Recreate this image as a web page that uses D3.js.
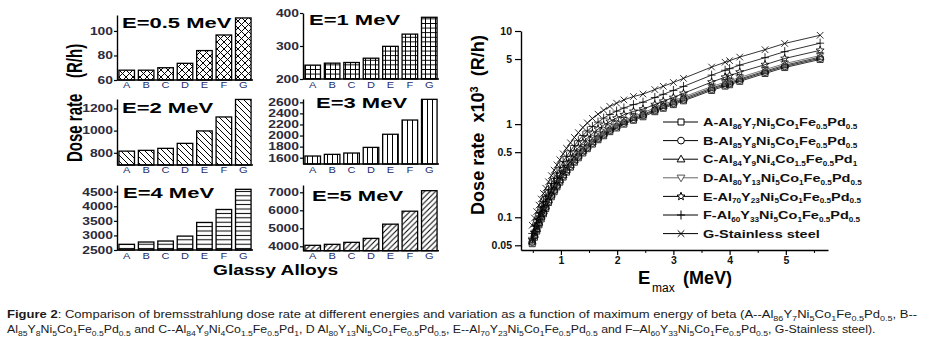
<!DOCTYPE html>
<html><head><meta charset="utf-8">
<script src="https://cdn.jsdelivr.net/npm/d3@7"></script>
<style>
body{margin:0;background:#fff}
svg{display:block;font-family:"Liberation Sans",Arial,sans-serif}
</style></head>
<body><svg id="c" width="928" height="347"></svg>
<script>
// ---------------- DATA ----------------
const alloys = ["A","B","C","D","E","F","G"];
const dose05MeV = [68, 68, 70, 73.6, 84, 96.7, 110.6];
const dose1MeV  = [242, 248, 250, 263, 299, 336, 387];
const dose2MeV  = [815, 822, 840, 885, 997, 1123, 1281];
const dose3MeV  = [1630, 1660, 1684, 1786, 2023, 2280, 2654];
const dose4MeV  = [2695, 2774, 2808, 2977, 3445, 3890, 4582];
const dose5MeV  = [4055, 4110, 4220, 4440, 5230, 5950, 7090];
const panelTitles = ["E=0.5 MeV","E=1 MeV","E=2 MeV","E=3 MeV","E=4 MeV","E=5 MeV"];
const ticks05 = [60, 80, 100];
const ticks1  = [200, 300, 400];
const ticks2  = [800, 1000, 1200];
const ticks3  = [1600, 1800, 2000, 2200, 2400, 2600];
const ticks4  = [2500, 3000, 3500, 4000, 4500];
const ticks5  = [4000, 5000, 6000, 7000];
const barYLabel = "Dose rate";
const barYUnit = "(R/h)";
const barXLabel = "Glassy Alloys";

const energyMeV = [0.49,0.53,0.57,0.61,0.65,0.69,0.73,0.78,0.83,0.88,0.93,0.98,1.04,1.10,1.17,1.24,1.31,1.39,1.47,1.56,1.66,1.76,1.87,1.99,2.12,2.29,2.46,2.67,2.82,3.00,3.18,3.68,3.92,4.00,4.18,4.63,4.98,5.61];
const doseA = [0.052,0.061,0.071,0.083,0.096,0.109,0.124,0.144,0.166,0.188,0.212,0.238,0.27,0.305,0.345,0.39,0.435,0.49,0.545,0.61,0.68,0.75,0.83,0.91,1.0,1.1,1.2,1.36,1.48,1.62,1.78,2.3,2.56,2.65,2.88,3.5,4.05,4.95];
const doseB = [0.054,0.063,0.073,0.085,0.099,0.112,0.128,0.148,0.171,0.194,0.218,0.245,0.278,0.314,0.355,0.402,0.448,0.505,0.561,0.628,0.70,0.773,0.855,0.937,1.03,1.13,1.24,1.40,1.52,1.67,1.83,2.37,2.64,2.73,2.97,3.61,4.17,5.1];
const doseC = [0.055,0.065,0.075,0.088,0.102,0.116,0.131,0.153,0.176,0.199,0.225,0.252,0.286,0.323,0.366,0.413,0.461,0.519,0.578,0.647,0.721,0.795,0.88,0.965,1.06,1.17,1.27,1.44,1.57,1.72,1.89,2.44,2.71,2.81,3.05,3.71,4.29,5.25];
const doseD = [0.057,0.067,0.078,0.091,0.106,0.12,0.136,0.158,0.183,0.207,0.233,0.262,0.297,0.336,0.38,0.429,0.479,0.539,0.60,0.671,0.748,0.825,0.913,1.0,1.1,1.21,1.32,1.5,1.63,1.78,1.96,2.53,2.82,2.92,3.17,3.85,4.46,5.45];
const doseE = [0.057,0.068,0.079,0.093,0.108,0.124,0.141,0.166,0.193,0.221,0.252,0.286,0.331,0.38,0.435,0.497,0.559,0.635,0.711,0.794,0.883,0.973,1.07,1.16,1.26,1.37,1.45,1.62,1.76,1.93,2.14,2.83,3.19,3.31,3.62,4.35,5.07,6.2];
const doseF = [0.067,0.080,0.094,0.111,0.129,0.148,0.168,0.197,0.23,0.262,0.299,0.34,0.394,0.451,0.517,0.59,0.664,0.754,0.845,0.943,1.05,1.16,1.27,1.38,1.49,1.62,1.72,1.93,2.09,2.3,2.54,3.36,3.79,3.94,4.3,5.17,6.0,7.4];
const doseG = [0.082,0.098,0.115,0.135,0.157,0.18,0.205,0.24,0.28,0.32,0.365,0.415,0.48,0.55,0.63,0.72,0.81,0.92,1.03,1.15,1.28,1.41,1.55,1.68,1.82,1.98,2.1,2.35,2.55,2.8,3.1,4.1,4.62,4.8,5.25,6.3,7.35,9.0];
const seriesLabels = [
  "A-Al_{86}Y_{7}Ni_{5}Co_{1}Fe_{0.5}Pd_{0.5}",
  "B-Al_{85}Y_{8}Ni_{5}Co_{1}Fe_{0.5}Pd_{0.5}",
  "C-Al_{84}Y_{9}Ni_{4}Co_{1.5}Fe_{0.5}Pd_{1}",
  "D-Al_{80}Y_{13}Ni_{5}Co_{1}Fe_{0.5}Pd_{0.5}",
  "E-Al_{70}Y_{23}Ni_{5}Co_{1}Fe_{0.5}Pd_{0.5}",
  "F-Al_{60}Y_{33}Ni_{5}Co_{1}Fe_{0.5}Pd_{0.5}",
  "G-Stainless steel"
];
const logTicks = [0.05, 0.1, 0.5, 1, 5, 10];
const energyTicks = [1, 2, 3, 4, 5];
const energyMinorTicks = [0.5, 1.5, 2.5, 3.5, 4.5, 5.5];
const captionLine1 = "**Figure 2**: Comparison of bremsstrahlung dose rate at different energies and variation as a function of maximum energy of beta (A--Al_{86}Y_{7}Ni_{5}Co_{1}Fe_{0.5}Pd_{0.5}, B--";
const captionLine2 = "Al_{85}Y_{8}Ni_{5}Co_{1}Fe_{0.5}Pd_{0.5} and C--Al_{84}Y_{9}Ni_{4}Co_{1.5}Fe_{0.5}Pd_{1}, D Al_{80}Y_{13}Ni_{5}Co_{1}Fe_{0.5}Pd_{0.5}, E--Al_{70}Y_{23}Ni_{5}Co_{1}Fe_{0.5}Pd_{0.5} and F\u2013Al_{60}Y_{33}Ni_{5}Co_{1}Fe_{0.5}Pd_{0.5}, G-Stainless steel).";

// ---------------- HELPERS ----------------
const svg = d3.select("#c");
const defs = svg.append("defs");
function pattern(id, w, h, d) {
  const p = defs.append("pattern").attr("id", id).attr("patternUnits", "userSpaceOnUse")
    .attr("width", w).attr("height", h);
  p.append("rect").attr("width", w).attr("height", h).attr("fill", "#fff");
  p.append("path").attr("d", d).attr("stroke", "#000").attr("stroke-width", 1).attr("fill", "none");
}
pattern("pXhatch", 7, 7, "M0,0L7,7M7,0L0,7M-1,1L1,-1M6,8L8,6M-1,6L1,8M6,-1L8,1");
pattern("pGrid", 5, 4.6, "M0,0.5H5M0.5,0V4.6");
pattern("pBack", 6, 6, "M0,0L6,6M-1,5L1,7M5,-1L7,1");
pattern("pVert", 5, 5, "M2.5,0V5");
pattern("pHoriz", 5, 4.4, "M0,2.2H5");
pattern("pFwd", 5.5, 5.5, "M0,5.5L5.5,0M-1,1L1,-1M4.5,6.5L6.5,4.5");

function richText(textSel, str, subFs, dy) {
  const parts = str.split(/(_\{[^}]*\}|\^\{[^}]*\}|\*\*[^*]*\*\*)/).filter(s => s.length);
  let shift = 0;
  parts.forEach(p => {
    const t = textSel.append("tspan");
    if (p.startsWith("_{") || p.startsWith("^{")) {
      const want = p[0] === "_" ? dy : -dy * 1.9;
      t.text(p.slice(2, -1)).attr("font-size", subFs);
      if (want !== shift) t.attr("dy", want - shift);
      shift = want;
    } else {
      if (p.startsWith("**")) t.text(p.slice(2, -2)).attr("font-weight", "bold");
      else t.text(p);
      if (shift) { t.attr("dy", -shift); shift = 0; }
    }
  });
}
function stretchedText(parent, x, y, k, str, opts) {
  const g = parent.append("g").attr("transform", `translate(${x},${y}) scale(${k},1)`);
  const t = g.append("text").text(str)
    .attr("font-size", opts.size).attr("font-weight", opts.weight || "normal")
    .attr("fill", opts.fill || "#000").attr("text-anchor", opts.anchor || "start");
  return t;
}

// ---------------- BAR PANELS ----------------
const panels = [
  {vals: dose05MeV, ticks: ticks05, dom: [60, 113],   x: [117, 253], y: [80, 15],    pat: "pXhatch", tx: 122, ty: 27.5, lb: 88},
  {vals: dose1MeV,  ticks: ticks1,  dom: [200, 400],  x: [303, 439], y: [79, 13],    pat: "pGrid",   tx: 309, ty: 24.5, lb: 87.5},
  {vals: dose2MeV,  ticks: ticks2,  dom: [690, 1285], x: [117, 253], y: [165, 99],   pat: "pBack",   tx: 122, ty: 113,  lb: 173},
  {vals: dose3MeV,  ticks: ticks3,  dom: [1486, 2660],x: [303, 439], y: [164, 99],   pat: "pVert",   tx: 316, ty: 108,  lb: 173},
  {vals: dose4MeV,  ticks: ticks4,  dom: [2500, 4730],x: [117, 253], y: [250, 185],  pat: "pHoriz",  tx: 123, ty: 197.5,lb: 259},
  {vals: dose5MeV,  ticks: ticks5,  dom: [3756, 7405],x: [303, 439], y: [250.7, 185],pat: "pFwd",    tx: 312, ty: 200.5,lb: 259}
];
const TK = 1.32; // horizontal stretch of the left figure's tick text
panels.forEach((p, i) => {
  const g = svg.append("g");
  const xs = d3.scaleBand().domain(alloys).range(p.x).paddingInner(0.2).paddingOuter(0.1);
  const ys = d3.scaleLinear().domain(p.dom).range(p.y);
  g.selectAll("rect").data(p.vals).join("rect")
    .attr("x", (d, j) => xs(alloys[j])).attr("width", xs.bandwidth())
    .attr("y", d => ys(d)).attr("height", d => ys(p.dom[0]) - ys(d))
    .attr("fill", `url(#${p.pat})`).attr("stroke", "#000").attr("stroke-width", 1.3);
  const ax = g.append("g").attr("transform", `translate(${p.x[0]},0)`)
    .call(d3.axisLeft(ys).tickValues(p.ticks).tickSize(3).tickSizeOuter(0).tickPadding(1).tickFormat(d3.format("d")));
  ax.select(".domain").attr("stroke-width", 1.4);
  ax.selectAll(".tick line").attr("stroke-width", 1.2);
  ax.selectAll(".tick text").attr("font-size", 10.5).attr("font-weight", "bold").attr("fill", "#2b2b3d")
    .attr("font-family", "Liberation Sans, Arial, sans-serif")
    .attr("x", -4 / TK).attr("transform", `scale(${TK},1)`);
  g.append("line").attr("x1", p.x[0]).attr("x2", p.x[1]).attr("y1", p.y[0]).attr("y2", p.y[0])
    .attr("stroke", "#000").attr("stroke-width", 1.4);
  alloys.forEach(a => {
    stretchedText(g, xs(a) + xs.bandwidth() / 2, p.lb, 1.3, a, {size: 8.5, fill: "#1f2d6b", anchor: "middle"});
  });
  stretchedText(g, p.tx, p.ty, 1.42, panelTitles[i], {size: 15.5, weight: "bold"});
});
// left y title (rotated, horizontally stretched)
svg.append("g").attr("transform", "translate(82,162) scale(1.5,1) rotate(-90)")
  .append("text").text(barYLabel).attr("font-size", 15).attr("font-weight", "bold");
svg.append("g").attr("transform", "translate(82,78) scale(1.5,1) rotate(-90)")
  .append("text").text(barYUnit).attr("font-size", 15).attr("font-weight", "bold");
// x title
stretchedText(svg, 213, 275, 1.28, barXLabel, {size: 15, weight: "bold"});

// ---------------- LOG CHART ----------------
const xE = d3.scaleLinear().domain([0.29, 5.75]).range([521, 828]);
const yD = d3.scaleLog().domain([0.0445, 10]).range([250, 31]);
const rc = svg.append("g");
const yAx = rc.append("g").attr("transform", "translate(521,0)")
  .call(d3.axisLeft(yD).tickValues(logTicks).tickSize(6).tickSizeOuter(0).tickPadding(3).tickFormat(d => String(d)));
const xAx = rc.append("g").attr("transform", "translate(0,250)")
  .call(d3.axisBottom(xE).tickValues(energyTicks).tickSize(5).tickSizeOuter(0).tickPadding(2).tickFormat(d3.format("d")));
rc.append("g").attr("transform", "translate(0,250)")
  .call(d3.axisBottom(xE).tickValues(energyMinorTicks).tickSize(3).tickSizeOuter(0).tickFormat(""))
  .select(".domain").remove();
[yAx, xAx].forEach(a => {
  a.select(".domain").attr("stroke-width", 1.4);
  a.selectAll(".tick line").attr("stroke-width", 1.2);
  a.selectAll(".tick text").attr("font-size", 10.5).attr("font-weight", "bold").attr("fill", "#111")
    .attr("font-family", "Liberation Sans, Arial, sans-serif");
});

function markerPath(type) {
  switch (type) {
    case "square": return "M-3,-3h6v6h-6Z";
    case "circle": return "M3.4,0A3.4,3.4 0 1,1 -3.4,0A3.4,3.4 0 1,1 3.4,0Z";
    case "triangle": return "M0,-4L3.9,2.7L-3.9,2.7Z";
    case "triangleDown": return "M0,4L3.9,-2.7L-3.9,-2.7Z";
    case "star": {
      let s = "";
      for (let k = 0; k < 10; k++) {
        const r = k % 2 ? 1.8 : 4.2, a = -Math.PI / 2 + k * Math.PI / 5;
        s += (k ? "L" : "M") + (r * Math.cos(a)).toFixed(2) + "," + (r * Math.sin(a)).toFixed(2);
      }
      return s + "Z";
    }
    case "plus": return "M-4,0H4M0,-4.5V4.5";
    case "x": return "M-3.3,-3.3L3.3,3.3M3.3,-3.3L-3.3,3.3";
  }
}
const seriesData = [doseA, doseB, doseC, doseD, doseE, doseF, doseG];
const markers = ["square", "circle", "triangle", "triangleDown", "star", "plus", "x"];
const strokeCol = ["#000", "#000", "#111", "#555", "#000", "#000", "#000"];
const line = d3.line().x(d => xE(d[0])).y(d => yD(d[1]));
seriesData.forEach((vals, i) => {
  const pts = energyMeV.map((e, j) => [e, vals[j]]);
  rc.append("path").attr("d", line(pts)).attr("fill", "none").attr("stroke", strokeCol[i]).attr("stroke-width", 0.8);
  rc.append("g").selectAll("path").data(pts).join("path")
    .attr("transform", d => `translate(${xE(d[0])},${yD(d[1])})`)
    .attr("d", markerPath(markers[i])).attr("fill", "none").attr("stroke", strokeCol[i]).attr("stroke-width", 0.8);
});

// legend
const lg = rc.append("g");
seriesLabels.forEach((lab, i) => {
  const y = 122 + i * 18.6;
  lg.append("line").attr("x1", 663).attr("x2", 698).attr("y1", y).attr("y2", y)
    .attr("stroke", i === 3 ? "#666" : "#000").attr("stroke-width", 1);
  lg.append("path").attr("transform", `translate(681,${y})`).attr("d", markerPath(markers[i]))
    .attr("fill", "#fff").attr("stroke", i === 3 ? "#555" : "#000").attr("stroke-width", 1);
  const t = lg.append("g").attr("transform", `translate(703,${y + 4.2}) scale(1.26,1)`)
    .append("text").attr("font-size", 11.5).attr("font-weight", "bold").attr("fill", "#111");
  richText(t, lab, 6.5, 2.8);
});

// right y title: one rotated text, fitted between y=215 and y=35
{
  const g = rc.append("g");
  const t = g.append("text").attr("font-size", 18).attr("font-weight", "bold")
    .style("white-space", "pre");
  richText(t, "Dose rate  x10^{3}  (R/h)", 11, 3.2);
  const w = t.node().getComputedTextLength();
  g.attr("transform", `translate(484,215) rotate(-90) scale(${180 / w},1)`);
}
// right x title
rc.append("text").attr("x", 638).attr("y", 284).attr("font-size", 18.5).attr("font-weight", "bold").text("E");
rc.append("text").attr("x", 652).attr("y", 292).attr("font-size", 12).text("max");
rc.append("text").attr("x", 683).attr("y", 284).attr("font-size", 18).attr("font-weight", "bold").text("(MeV)");

// ---------------- CAPTION ----------------
function captionLine(str, x0, y, target) {
  const g = svg.append("g");
  const t = g.append("text").attr("font-size", 11.5).attr("fill", "#1a1a1a");
  richText(t, str, 8, 3);
  const w = t.node().getBBox().width;
  g.attr("transform", `translate(${x0},${y}) scale(${target / w},1)`);
}
captionLine(captionLine1, 7, 318, 911);
captionLine(captionLine2, 7, 333, 870);
</script></body></html>
